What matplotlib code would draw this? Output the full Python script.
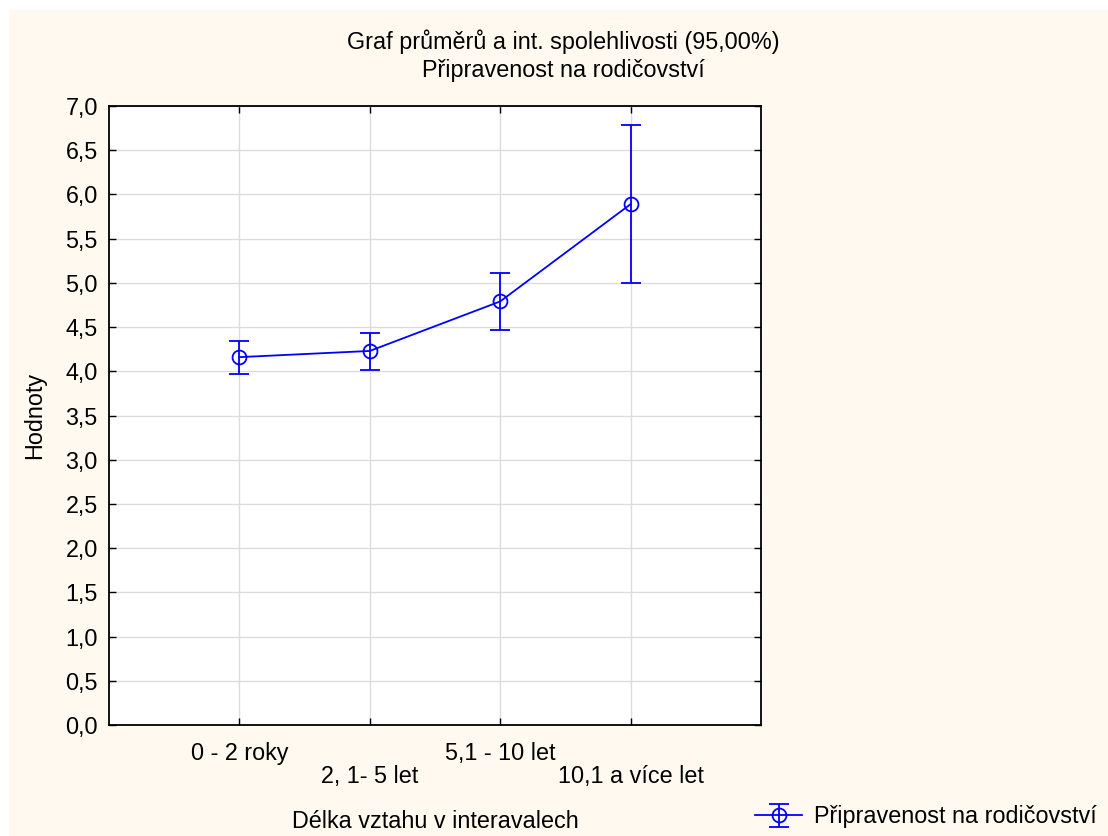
import matplotlib.pyplot as plt
from matplotlib.patches import Rectangle
from matplotlib.ticker import FuncFormatter, MultipleLocator

plt.rcParams['font.family'] = ['Liberation Sans', 'DejaVu Sans']

# data
categories = ['0 - 2 roky', '2, 1- 5 let', '5,1 - 10 let', '10,1 a více let']
means = [4.16, 4.23, 4.79, 5.89]
ci_low = [3.97, 4.01, 4.47, 5.00]
ci_high = [4.34, 4.43, 5.11, 6.79]
series_name = 'Připravenost na rodičovství'

blue = '#0000ff'
fs = 16.8
fig = plt.figure(figsize=(11.08, 8.36), dpi=100)
fig.patch.set_facecolor('white')
# cream panel behind everything
fig.patches.append(Rectangle((9 / 1108, -0.01), 1.02, 1.01 - 10 / 836,
                             transform=fig.transFigure, facecolor='#fff9ef',
                             edgecolor='none', zorder=-10))

ax = fig.add_axes([109 / 1108, 1 - 725 / 836, (761 - 109) / 1108, (725 - 106) / 836])
ax.set_facecolor('white')

x = list(range(1, len(categories) + 1))
yerr = [[m - lo for m, lo in zip(means, ci_low)],
        [hi - m for m, hi in zip(means, ci_high)]]
ax.errorbar(x, means, yerr=yerr, color=blue, marker='o', markersize=10,
            markerfacecolor='none', markeredgecolor=blue, mew=1.3, lw=1.3,
            capsize=7, capthick=1.3, elinewidth=1.3, label=series_name, zorder=3)

ax.set_xlim(0, 5)
ax.set_ylim(0, 7)
ax.set_xticks(x)
ax.set_xticklabels([c if i % 2 == 0 else '\n' + c for i, c in enumerate(categories)],
                   linespacing=1.0)
ax.yaxis.set_major_locator(MultipleLocator(0.5))
ax.yaxis.set_major_formatter(FuncFormatter(lambda v, p: f'{v:.1f}'.replace('.', ',')))
ax.grid(True, color='#dcdcdc', lw=1)
ax.set_axisbelow(True)
ax.tick_params(direction='in', top=True, right=True, length=5, labelsize=fs, width=1)
ax.tick_params(axis='x', pad=12)
ax.tick_params(axis='y', pad=8)
for s in ax.spines.values():
    s.set_linewidth(1.3)

ax.set_ylabel('Hodnoty', fontsize=fs, labelpad=14)
ax.set_xlabel('Délka vztahu v interavalech', fontsize=fs, labelpad=16)

fig.text(563 / 1108, 1 - 42 / 836, 'Graf průměrů a int. spolehlivosti (95,00%)',
         ha='center', va='center', fontsize=fs)
fig.text(563 / 1108, 1 - 70 / 836, series_name, ha='center', va='center', fontsize=fs)

fig.legend(loc='center right', bbox_to_anchor=(1.0, 1 - 817 / 836), frameon=False,
           fontsize=fs, handlelength=2.0, handletextpad=0.5, borderaxespad=0.1)

fig.savefig('out.png', dpi=100)
